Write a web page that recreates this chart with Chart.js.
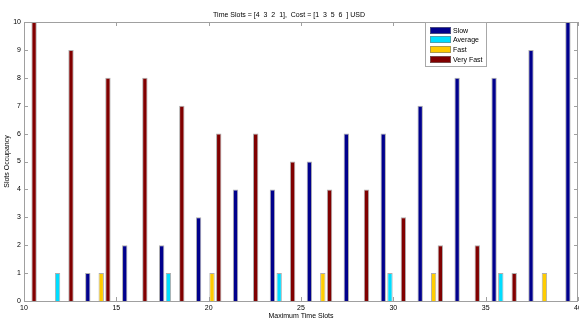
<!DOCTYPE html>
<html>
<head>
<meta charset="utf-8">
<script src="https://cdn.jsdelivr.net/npm/chart.js@4/dist/chart.umd.min.js"></script>
<style>
  html, body { margin: 0; padding: 0; background: #fff; }
  #wrap { width: 579px; height: 320px; }
</style>
</head>
<body>
<div id="wrap"><canvas id="c" width="579" height="320"></canvas></div>
<script>
// ---- data ----
const maxTimeSlots = [10, 12, 14, 16, 18, 20, 22, 24, 26, 28, 30, 32, 34, 36, 38, 40];
const slowValues     = [0, 0, 1, 2, 2, 3, 4, 4, 5, 6, 6, 7, 8, 8, 9, 10];
const averageValues  = [0, 1, 0, 0, 1, 0, 0, 1, 0, 0, 1, 0, 0, 1, 0, 0];
const fastValues     = [0, 0, 1, 0, 0, 1, 0, 0, 1, 0, 0, 1, 0, 0, 1, 0];
const veryFastValues = [10, 9, 8, 8, 7, 6, 6, 5, 4, 4, 3, 2, 2, 1, 0, 0];
const seriesNames = ['Slow', 'Average', 'Fast', 'Very Fast'];
const xTicks = [10, 15, 20, 25, 30, 35, 40];
const yTicks = [0, 1, 2, 3, 4, 5, 6, 7, 8, 9, 10];
const titleText = 'Time Slots = [4  3  2  1],  Cost = [1  3  5  6  ] USD';
const xLabel = 'Maximum Time Slots';
const yLabel = 'Slots Occupancy';

const colors = ['#00008C', '#00DDFF', '#FFCC00', '#800000'];
const FONT = '"Liberation Sans", Arial, Helvetica, sans-serif';

function pts(vals) { return maxTimeSlots.map((x, i) => ({ x: x, y: vals[i] })); }
const allSeries = [slowValues, averageValues, fastValues, veryFastValues];

const datasets = allSeries.map((v, i) => ({
  label: seriesNames[i],
  data: pts(v),
  backgroundColor: colors[i],
  borderColor: 'rgba(120,120,120,0.6)',
  borderWidth: 1,
  borderSkipped: 'start',
  categoryPercentage: 4 / 5.5,
  barPercentage: 0.8
}));

// box with inward ticks (MATLAB style)
const boxPlugin = {
  id: 'box',
  afterDatasetsDraw(chart) {
    const { ctx, chartArea: a, scales } = chart;
    ctx.save();
    ctx.strokeStyle = '#a0a0a0';
    ctx.lineWidth = 1;
    ctx.strokeRect(Math.round(a.left) + 0.5, Math.round(a.top) + 0.5,
                   Math.round(a.right - a.left) - 1, Math.round(a.bottom - a.top));
    const tl = 4;
    ctx.beginPath();
    xTicks.forEach(t => {
      const px = Math.round(scales.x.getPixelForValue(t)) + 0.5;
      ctx.moveTo(px, a.bottom); ctx.lineTo(px, a.bottom - tl);
      ctx.moveTo(px, a.top); ctx.lineTo(px, a.top + tl);
    });
    yTicks.forEach(t => {
      const py = Math.round(scales.y.getPixelForValue(t)) + 0.5;
      ctx.moveTo(a.left, py); ctx.lineTo(a.left + tl, py);
      ctx.moveTo(a.right, py); ctx.lineTo(a.right - tl, py);
    });
    ctx.stroke();
    ctx.restore();
  },
  afterDraw(chart) {
    // legend box (MATLAB style, inside axes)
    const { ctx } = chart;
    const bx = 425, by = 22, bw = 61, bh = 44;
    ctx.save();
    ctx.fillStyle = '#fff';
    ctx.fillRect(bx, by, bw, bh);
    ctx.strokeStyle = '#a8a8a8';
    ctx.lineWidth = 1;
    ctx.strokeRect(bx + 0.5, by + 0.5, bw, bh);
    ctx.font = '7px ' + FONT;
    ctx.textBaseline = 'middle';
    ctx.textAlign = 'left';
    chart.data.datasets.forEach((ds, i) => {
      const cy = 30.3 + i * 9.67;
      ctx.fillStyle = ds.backgroundColor;
      ctx.fillRect(430, Math.round(cy - 3.5), 21, 7);
      ctx.strokeStyle = 'rgba(120,120,120,0.6)';
      ctx.strokeRect(430.5, Math.round(cy - 3.5) + 0.5, 20, 6);
      ctx.fillStyle = '#000';
      ctx.fillText(ds.label, 453, cy + 0.5);
    });
    ctx.restore();
  }
};

new Chart(document.getElementById('c'), {
  type: 'bar',
  data: { datasets },
  plugins: [boxPlugin],
  options: {
    responsive: false,
    animation: false,
    devicePixelRatio: 1,
    layout: { padding: { left: 0, right: 1, top: 0, bottom: 0 } },
    plugins: {
      legend: { display: false },
      tooltip: { enabled: false },
      title: {
        display: true,
        text: titleText,
        color: '#000',
        font: { family: FONT, size: 7, weight: 'normal', lineHeight: 1.2 },
        padding: { top: 11, bottom: 2.6 }
      }
    },
    scales: {
      x: {
        type: 'linear',
        offset: false,
        min: 10, max: 40,
        grid: { display: false, drawTicks: false, offset: false },
        border: { display: false },
        afterBuildTicks(s) { s.ticks = xTicks.map(v => ({ value: v })); },
        ticks: {
          color: '#000', padding: 3, maxRotation: 0, autoSkip: false,
          font: { family: FONT, size: 7 }
        },
        title: {
          display: true, text: xLabel, color: '#000',
          font: { family: FONT, size: 7, lineHeight: 1.2 },
          padding: { top: 0, bottom: 0 }
        },
        afterFit(s) { s.height = 19; s.paddingLeft = 0; s.paddingRight = 0; }
      },
      y: {
        min: 0, max: 10,
        grid: { display: false, drawTicks: false },
        border: { display: false },
        afterBuildTicks(s) { s.ticks = yTicks.map(v => ({ value: v })); },
        ticks: {
          color: '#000', padding: 3, autoSkip: false,
          font: { family: FONT, size: 7 }
        },
        title: {
          display: true, text: yLabel, color: '#000',
          font: { family: FONT, size: 7, lineHeight: 1.2 },
          padding: { top: 2.8, bottom: 0 }
        },
        afterFit(s) { s.width = 24; s.paddingTop = 0; s.paddingBottom = 0; }
      }
    }
  }
});
</script>
</body>
</html>
